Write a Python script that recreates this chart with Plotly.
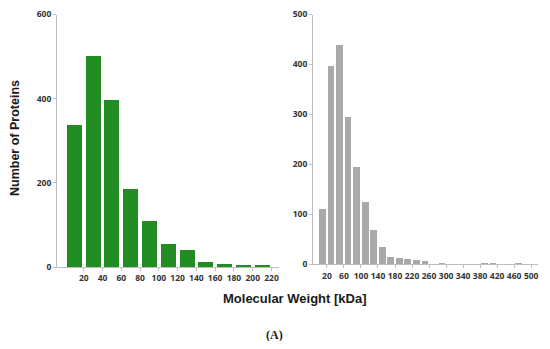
import plotly.graph_objects as go

# Left histogram (green): bins of 20 kDa, 0-220
left_bin_centers = [10, 30, 50, 70, 90, 110, 130, 150, 170, 190, 210]
left_counts = [338, 502, 399, 187, 110, 55, 42, 13, 8, 6, 5]
left_ticks = [20, 40, 60, 80, 100, 120, 140, 160, 180, 200, 220]
left_yticks = [0, 200, 400, 600]

# Right histogram (gray): bins of 20 kDa, 0-500
right_bin_centers = [10, 30, 50, 70, 90, 110, 130, 150, 170, 190, 210, 230, 250,
                     270, 290, 310, 330, 350, 370, 390, 410, 430, 450, 470, 490]
right_counts = [112, 397, 439, 296, 196, 125, 69, 36, 16, 14, 12, 10, 8,
                1, 3, 1, 1, 1, 0.5, 3, 2, 1, 0, 2, 0]
right_ticks = [20, 60, 100, 140, 180, 220, 260, 300, 340, 380, 420, 460, 500]
right_yticks = [0, 100, 200, 300, 400, 500]

GREEN = "#228b22"
GRAY = "#a9a9a9"
AXIS = "#bdbdbd"
TICKFONT = dict(family="Open Sans, Arial, sans-serif", size=8.5, color="#333333", weight=700)

# page body has an 8px default margin; figure is sized to fit the 550x349 window
OFF = 8
W, H = 550 - 2 * OFF, 349 - 2 * OFF


def px(x):
    return (x - OFF) / W


def py(y):
    return 1 - (y - OFF) / H


fig = go.Figure()
fig.add_trace(go.Bar(x=left_bin_centers, y=left_counts, width=16,
                     marker=dict(color=GREEN, line=dict(width=0)),
                     xaxis="x", yaxis="y", showlegend=False))
fig.add_trace(go.Bar(x=right_bin_centers, y=right_counts, width=15.5,
                     marker=dict(color=GRAY, line=dict(width=0)),
                     xaxis="x2", yaxis="y2", showlegend=False))

axis_common = dict(showgrid=False, zeroline=False, showline=True, linecolor=AXIS,
                   linewidth=1, ticks="outside", ticklen=3, tickcolor=AXIS,
                   tickfont=TICKFONT, fixedrange=True, automargin=False, tickangle=0)

fig.update_layout(
    width=W, height=H,
    margin=dict(l=0, r=0, t=0, b=0, pad=0),
    paper_bgcolor="white", plot_bgcolor="white",
    bargap=0,
    xaxis=dict(domain=[px(57), px(279)], range=[-8.5, 228], tickvals=left_ticks,
               anchor="y", **axis_common),
    yaxis=dict(domain=[py(267), py(14.5)], range=[0, 600], tickvals=left_yticks,
               anchor="x", **axis_common),
    xaxis2=dict(domain=[px(313), px(538)], range=[-12.7, 516], tickvals=right_ticks,
                anchor="y2", **axis_common),
    yaxis2=dict(domain=[py(264.3), py(14.5)], range=[0, 500], tickvals=right_yticks,
                anchor="x2", **axis_common),
    annotations=[
        dict(text="<b>Number of Proteins</b>", x=px(15), y=py(138), xref="paper", yref="paper",
             textangle=-90, showarrow=False, xanchor="center", yanchor="middle",
             font=dict(family="Liberation Sans, Arial, sans-serif", size=12.5, color="#1a1a1a")),
        dict(text="<b>Molecular Weight [kDa]</b>", x=px(295), y=py(298), xref="paper", yref="paper",
             showarrow=False, xanchor="center", yanchor="middle",
             font=dict(family="Liberation Sans, Arial, sans-serif", size=13, color="#1a1a1a")),
        dict(text="<b>(A)</b>", x=px(274), y=py(335), xref="paper", yref="paper",
             showarrow=False, xanchor="center", yanchor="middle",
             font=dict(family="Liberation Serif, Times New Roman, serif", size=12, color="#1a1a1a")),
    ],
)

fig.write_html("out.html")
